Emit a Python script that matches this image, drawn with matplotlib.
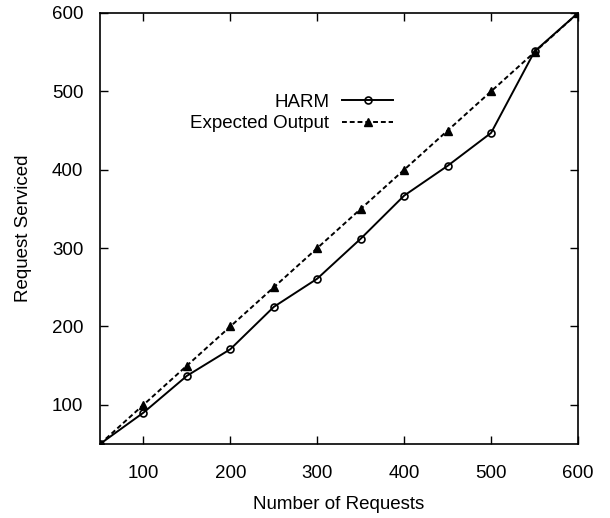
import matplotlib
matplotlib.use("Agg")
import matplotlib.pyplot as plt

requests = [50, 100, 150, 200, 250, 300, 350, 400, 450, 500, 550, 600]
harm = [50, 90, 137, 171, 225, 261, 312, 367, 405, 447, 551, 600]
expected = [50, 100, 150, 200, 250, 300, 350, 400, 450, 500, 550, 600]
ticks = [100, 200, 300, 400, 500, 600]

plt.rcParams['font.family'] = ['Liberation Sans', 'DejaVu Sans']
fs = 13.5

fig = plt.figure(figsize=(6.1, 5.18), dpi=100)
ax = fig.add_axes([100 / 610, 1 - 444 / 518, 478 / 610, 431 / 518])

ax.plot(requests, harm, color='black', lw=1.4, marker='o', ms=5,
        mfc='none', mec='black', mew=1.2, label='HARM')
ax.plot(requests, expected, color='black', lw=1.4, ls=(0, (2.5, 1.5)),
        marker='^', ms=5.5, mfc='black', mec='black', label='Expected Output')

ax.set_xlim(50, 600)
ax.set_ylim(50, 600)
ax.set_xticks(ticks)
ax.set_yticks(ticks)
ax.tick_params(direction='in', length=6, width=1, top=True, right=True,
               labelsize=fs)
ax.tick_params(axis='x', pad=15)
ax.tick_params(axis='y', pad=12)
for s in ax.spines.values():
    s.set_linewidth(1.2)

ax.set_xlabel('Number of Requests', fontsize=fs, labelpad=10)
ax.set_ylabel('Request Serviced', fontsize=fs, labelpad=14)

leg = ax.legend(loc='center right', bbox_to_anchor=((393 - 100) / 478, 1 - (113 - 13) / 431),
                frameon=False, markerfirst=False, fontsize=fs, handlelength=2.7,
                handletextpad=0.7, labelspacing=0.25, borderpad=0, borderaxespad=0)
for t in leg.get_texts():
    t.set_ha('right')

plt.savefig("out.png", dpi=100)
